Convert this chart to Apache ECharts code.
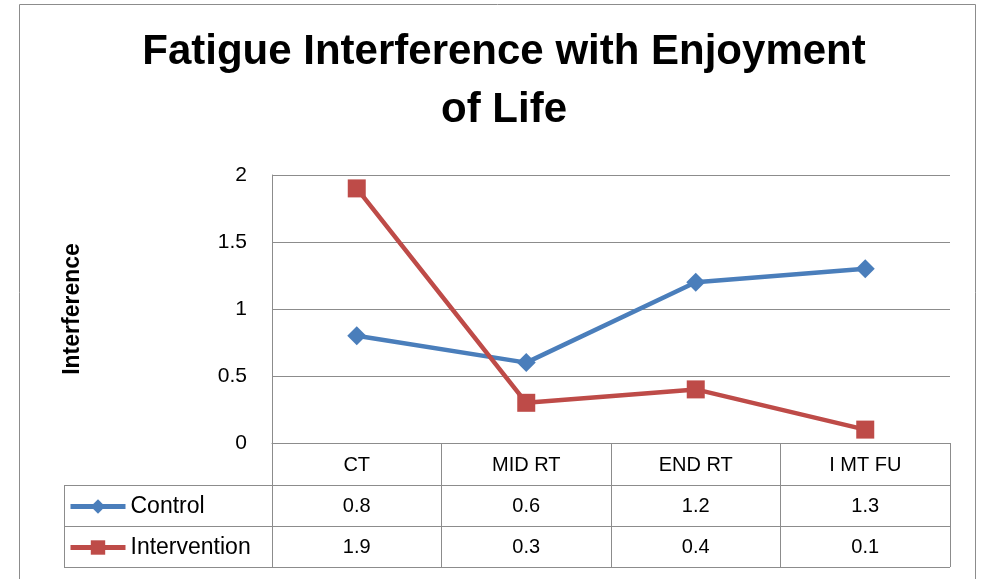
<!DOCTYPE html>
<html>
<head>
<meta charset="utf-8">
<script src="https://cdn.jsdelivr.net/npm/echarts@6/dist/echarts.min.js"></script>
<style>
  html, body { margin: 0; padding: 0; background: #fff; }
  #main { width: 982px; height: 579px; }
</style>
</head>
<body>
<div id="main"></div>
<script>
var categories = ["CT", "MID RT", "END RT", "I MT FU"];
var controlData = [0.8, 0.6, 1.2, 1.3];
var interventionData = [1.9, 0.3, 0.4, 0.1];
var yTicks = [0, 0.5, 1, 1.5, 2];

var font = "Liberation Sans";
var gray = "#8c8c8c";
var blue = "#4a7ebb";
var red = "#be4b48";

var chart = echarts.init(document.getElementById("main"));

// value rows of the data table, drawn as extra category axes under the plot
function rowAxis(values, offset) {
  return {
    type: "category",
    data: values.map(String),
    position: "bottom",
    offset: offset,
    axisLine: { show: false },
    axisTick: { show: false },
    axisLabel: { color: "#000", fontFamily: font, fontSize: 20, margin: 12 }
  };
}

var option = {
  animation: false,
  title: {
    text: "Fatigue Interference with Enjoyment\nof Life",
    left: 499,
    textAlign: "center",
    top: 18,
    textStyle: { fontFamily: font, fontWeight: "bold", fontSize: 42, lineHeight: 58, color: "#000" }
  },
  legend: {
    orient: "vertical",
    left: 63,
    top: 490,
    itemWidth: 55,
    itemHeight: 18,
    itemGap: 18,
    lineStyle: { width: 5 },
    textStyle: { fontFamily: font, fontSize: 23, color: "#000", lineHeight: 23 },
    data: ["Control", "Intervention"]
  },
  grid: { left: 272, right: 32, top: 175, bottom: 136 },
  xAxis: [
    {
      type: "category",
      data: categories,
      boundaryGap: true,
      axisLine: { show: true, lineStyle: { color: gray, width: 1 } },
      axisTick: { show: true, length: 124, lineStyle: { color: gray, width: 1 } },
      axisLabel: { color: "#000", fontFamily: font, fontSize: 20, margin: 12 },
      splitLine: { show: false }
    },
    rowAxis(controlData, 41),
    rowAxis(interventionData, 82)
  ],
  yAxis: {
    type: "value",
    min: yTicks[0],
    max: yTicks[yTicks.length - 1],
    interval: 0.5,
    name: "Interference",
    nameLocation: "middle",
    nameGap: 188,
    nameTextStyle: { fontFamily: font, fontWeight: "bold", fontSize: 23, color: "#000" },
    axisLine: { show: true, lineStyle: { color: gray, width: 1 } },
    axisTick: { show: false },
    axisLabel: { color: "#000", fontFamily: font, fontSize: 21, margin: 25 },
    splitLine: { lineStyle: { color: gray, width: 1 } }
  },
  graphic: [
    { type: "rect", shape: { x: 19.5, y: 4.5, width: 956, height: 600 }, style: { fill: null, stroke: gray, lineWidth: 1 }, silent: true },
    { type: "line", shape: { x1: 64, y1: 485.5, x2: 950, y2: 485.5 }, style: { stroke: gray, lineWidth: 1 } },
    { type: "line", shape: { x1: 64, y1: 526.5, x2: 950, y2: 526.5 }, style: { stroke: gray, lineWidth: 1 } },
    { type: "line", shape: { x1: 64, y1: 567.5, x2: 950, y2: 567.5 }, style: { stroke: gray, lineWidth: 1 } },
    { type: "line", shape: { x1: 64.5, y1: 485, x2: 64.5, y2: 568 }, style: { stroke: gray, lineWidth: 1 } }
  ],
  series: [
    {
      name: "Control",
      type: "line",
      data: controlData,
      symbol: "diamond",
      symbolSize: 19,
      lineStyle: { color: blue, width: 4.5 },
      itemStyle: { color: blue }
    },
    {
      name: "Intervention",
      type: "line",
      data: interventionData,
      symbol: "rect",
      symbolSize: 18,
      lineStyle: { color: red, width: 4.5 },
      itemStyle: { color: red }
    }
  ]
};

chart.setOption(option);
</script>
</body>
</html>
